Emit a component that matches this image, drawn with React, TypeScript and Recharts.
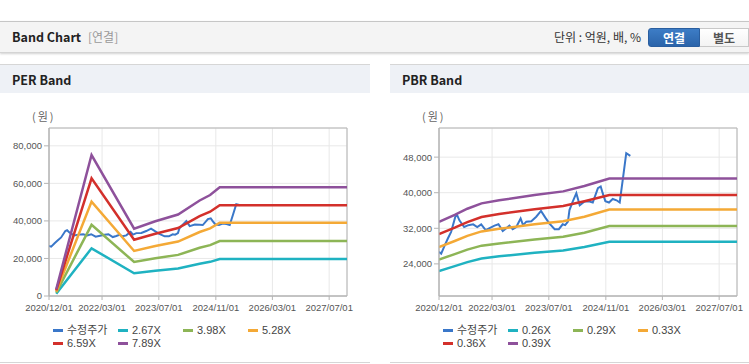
import React from 'react';
import { LineChart, Line, XAxis, YAxis, CartesianGrid, ReferenceArea, Legend } from 'recharts';

// x axis
const xStart = '2020/12/01';
const xEnd = '2027/12/01';
const xTickDates = ['2020/12/01', '2022/03/01', '2023/07/01', '2024/11/01', '2026/03/01', '2027/07/01'];

// 수정주가 (same for both charts)
const priceDates = [
  '2020/12/01', '2020/12/20', '2021/01/20', '2021/02/15', '2021/03/15', '2021/04/20', '2021/05/05', '2021/05/25',
  '2021/07/05', '2021/08/10', '2021/09/20', '2021/10/25', '2021/11/28', '2022/01/05', '2022/02/12', '2022/03/22',
  '2022/04/25', '2022/06/01', '2022/07/01', '2022/07/28', '2022/08/25', '2022/09/25', '2022/11/01', '2022/11/22',
  '2022/12/20', '2023/02/01', '2023/03/15', '2023/04/25', '2023/06/01', '2023/07/05', '2023/08/20', '2023/09/25',
  '2023/10/28', '2023/11/18', '2023/12/12', '2023/12/25', '2024/01/22', '2024/02/22', '2024/03/22', '2024/05/05',
  '2024/06/15', '2024/07/12', '2024/08/25', '2024/09/18', '2024/10/05', '2024/10/28', '2024/11/28', '2024/12/30',
  '2025/02/01', '2025/02/28', '2025/03/28', '2025/04/25', '2025/05/30',
];
const priceValues = [
  26700, 26300, 28200, 29700, 31200, 34600, 35000, 33800,
  32300, 32700, 32900, 32300, 32900, 31600, 32100, 32600,
  32900, 31400, 32000, 32600, 31800, 32300, 34200, 32700,
  33500, 33600, 34600, 35900, 34400, 33100, 31800, 31800,
  32900, 32700, 33500, 36100, 38000, 39900, 37200, 38100,
  38000, 37800, 41000, 41400, 39900, 38100, 37800, 38600,
  38300, 37800, 43300, 48900, 48300,
];

// PER band
const perDates = ['2021/02/01', '2021/12/01', '2022/12/01', '2023/06/01', '2023/12/13', '2024/06/15', '2024/09/13', '2024/12/04', '2027/12/01'];
const per267 = [1200, 25400, 12100, 13500, 14700, 17200, 18200, 19700, 19700];
const per398 = [1800, 37900, 18100, 20100, 21900, 25700, 27100, 29300, 29300];
const per528 = [2400, 50300, 24000, 26600, 29000, 34100, 36000, 39000, 39000];
const per659 = [3000, 62700, 30000, 33200, 36200, 42500, 44900, 48400, 48400];
const per789 = [3600, 75100, 35900, 39800, 43400, 50900, 53800, 57900, 57900];
const perTicks = [0, 20000, 40000, 60000, 80000];
const perNames = ['수정주가', '2.67X', '3.98X', '5.28X', '6.59X', '7.89X'];

// PBR band
const pbrDates = ['2020/12/01', '2021/04/15', '2021/08/01', '2021/12/01', '2022/05/01', '2023/03/01', '2023/11/01', '2024/05/01', '2024/12/01', '2027/12/01'];
const pbr026 = [22400, 23500, 24400, 25200, 25700, 26500, 27000, 27800, 28950, 28950];
const pbr029 = [24960, 26200, 27200, 28100, 28600, 29500, 30100, 31000, 32500, 32500];
const pbr033 = [27800, 29150, 30300, 31300, 31900, 32900, 33600, 34600, 36200, 36200];
const pbr036 = [30700, 32150, 33400, 34550, 35200, 36300, 37000, 38100, 39500, 39500];
const pbr039 = [33450, 35000, 36400, 37600, 38300, 39500, 40300, 41500, 43200, 43200];
const pbrTicks = [24000, 32000, 40000, 48000];
const pbrNames = ['수정주가', '0.26X', '0.29X', '0.33X', '0.36X', '0.39X'];

const colors = ['#3a77c9', '#1fb2c1', '#8db556', '#f4a936', '#d3302b', '#8e519b'];

const toTime = (s: string) => {
  const [y, m, d] = s.split('/').map(Number);
  return Date.UTC(y, m - 1, d);
};
const pad = (n: number) => (n < 10 ? '0' + n : '' + n);
const fmtDate = (t: number) => {
  const d = new Date(t);
  return `${d.getUTCFullYear()}/${pad(d.getUTCMonth() + 1)}/${pad(d.getUTCDate())}`;
};
const fmtNum = (v: number) => String(v).replace(/\B(?=(\d{3})+(?!\d))/g, ',');
const series = (dates: string[], values: number[]) => dates.map((d, i) => ({ t: toTime(d), v: values[i] }));

const T0 = toTime(xStart);
const T1 = toTime(xEnd);
const xTicks = xTickDates.map(toTime);
const priceData = series(priceDates, priceValues);

const numFont = '"Liberation Sans", "Noto Sans CJK KR", Arial, sans-serif';
const krFont = '"Noto Sans CJK KR", "Liberation Sans", sans-serif';

const LegendBox = ({ names }: { names: string[] }) => (
  <div style={{ display: 'flex', flexWrap: 'wrap', paddingLeft: 53, width: 262, height: 26, fontFamily: numFont, fontSize: 11, color: '#444' }}>
    {names.map((n, i) => (
      <div key={n} style={{ width: 65, height: 13, display: 'flex', alignItems: 'center', whiteSpace: 'nowrap' }}>
        <span style={{ display: 'inline-block', width: 10, height: 2.5, background: colors[i], marginRight: 4 }} />
        <span style={{ lineHeight: '13px' }}>{n}</span>
      </div>
    ))}
  </div>
);

interface BandProps {
  left: number;
  width: number;
  marginRight: number;
  bandDates: string[];
  bands: number[][];
  yTicks: number[];
  yDomain: [number, number];
  names: string[];
}

const BandChart = ({ left, width, marginRight, bandDates, bands, yTicks, yDomain, names }: BandProps) => (
  <div style={{ position: 'absolute', left, top: 100 }}>
    <div style={{ position: 'absolute', left: 32, top: 9, fontFamily: krFont, fontSize: 11, color: '#666', lineHeight: '14px', letterSpacing: 2 }}>(원)</div>
    <LineChart width={width} height={254} margin={{ top: 28, right: marginRight, bottom: 4, left: 0 }}>
      <CartesianGrid stroke="#e8e8e8" />
      <XAxis
        type="number"
        dataKey="t"
        domain={[T0, T1]}
        ticks={xTicks}
        interval={0}
        tickFormatter={fmtDate}
        allowDataOverflow
        height={28}
        tickSize={4}
        tickMargin={4}
        axisLine={{ stroke: '#b4b4b4' }}
        tickLine={{ stroke: '#b4b4b4' }}
        tick={{ fontSize: 9.5, fill: '#555', fontFamily: numFont }}
      />
      <YAxis
        type="number"
        domain={yDomain}
        ticks={yTicks}
        interval={0}
        allowDataOverflow
        width={49}
        tickSize={5}
        tickMargin={2}
        tickFormatter={fmtNum}
        axisLine={{ stroke: '#b4b4b4' }}
        tickLine={{ stroke: '#b4b4b4' }}
        tick={{ fontSize: 9.5, fill: '#555', fontFamily: numFont }}
      />
      <ReferenceArea x1={T0} x2={T1} y1={yDomain[0]} y2={yDomain[1]} fill="none" stroke="#b4b4b4" strokeWidth={1} />
      <Line data={priceData} dataKey="v" type="linear" stroke={colors[0]} strokeWidth={2} dot={false} isAnimationActive={false} />
      {bands.map((b, i) => (
        <Line
          key={i}
          data={series(bandDates, b)}
          dataKey="v"
          type="linear"
          stroke={colors[i + 1]}
          strokeWidth={2.5}
          dot={false}
          isAnimationActive={false}
        />
      ))}
      <Legend verticalAlign="bottom" align="left" height={26} content={() => <LegendBox names={names} />} />
    </LineChart>
  </div>
);

const Panel = ({ left, width, title }: { left: number; width: number; title: string }) => (
  <div style={{ position: 'absolute', left, top: 64, width, height: 297, borderTop: '1px solid #d6d6d6', borderBottom: '1px solid #d6d6d6', background: '#fff' }}>
    <div style={{ height: 28, background: '#eef1f6', fontFamily: krFont, fontWeight: 700, fontSize: 12.5, color: '#222', lineHeight: '30px', paddingLeft: 12 }}>
      {title}
    </div>
  </div>
);

export default function App() {
  return (
    <div style={{ position: 'fixed', left: 0, top: 0, width: 749, height: 364, background: '#fff', overflow: 'hidden' }}>
      <div
        style={{
          position: 'absolute', left: 0, top: 21, width: 749, height: 30, background: '#f4f4f4',
          borderTop: '1px solid #c6c6c6', borderBottom: '1px solid #d4d4d4', boxShadow: '0 1px 2px rgba(0,0,0,0.18)',
        }}
      >
        <span style={{ position: 'absolute', left: 12, top: 7, fontFamily: krFont, fontWeight: 700, fontSize: 12.5, color: '#222', lineHeight: '16px' }}>Band Chart</span>
        <span style={{ position: 'absolute', left: 88, top: 7, fontFamily: krFont, fontSize: 12, color: '#999', lineHeight: '16px' }}>[연결]</span>
        <span style={{ position: 'absolute', right: 108, top: 7, fontFamily: krFont, fontSize: 12, color: '#333', lineHeight: '16px' }}>단위 : 억원, 배, %</span>
        <div
          style={{
            position: 'absolute', left: 648, top: 6, width: 52, height: 19, borderRadius: '3px 0 0 3px',
            background: 'linear-gradient(#3d7dc6, #2b64aa)', border: '1px solid #2a5e9f', boxSizing: 'border-box',
            color: '#fff', fontFamily: krFont, fontWeight: 700, fontSize: 12, textAlign: 'center', lineHeight: '17px',
          }}
        >
          연결
        </div>
        <div
          style={{
            position: 'absolute', left: 700, top: 6, width: 49, height: 19, background: 'linear-gradient(#ffffff, #f3f3f3)',
            border: '1px solid #c8c8c8', borderLeft: 'none', boxSizing: 'border-box',
            color: '#555', fontFamily: krFont, fontWeight: 700, fontSize: 12, textAlign: 'center', lineHeight: '17px',
          }}
        >
          별도
        </div>
      </div>

      <Panel left={0} width={370} title="PER Band" />
      <Panel left={390} width={359} title="PBR Band" />

      <BandChart
        left={0}
        width={370}
        marginRight={23}
        bandDates={perDates}
        bands={[per267, per398, per528, per659, per789]}
        yTicks={perTicks}
        yDomain={[0, 89500]}
        names={perNames}
      />
      <BandChart
        left={390}
        width={359}
        marginRight={12}
        bandDates={pbrDates}
        bands={[pbr026, pbr029, pbr033, pbr036, pbr039]}
        yTicks={pbrTicks}
        yDomain={[16780, 54550]}
        names={pbrNames}
      />
    </div>
  );
}
